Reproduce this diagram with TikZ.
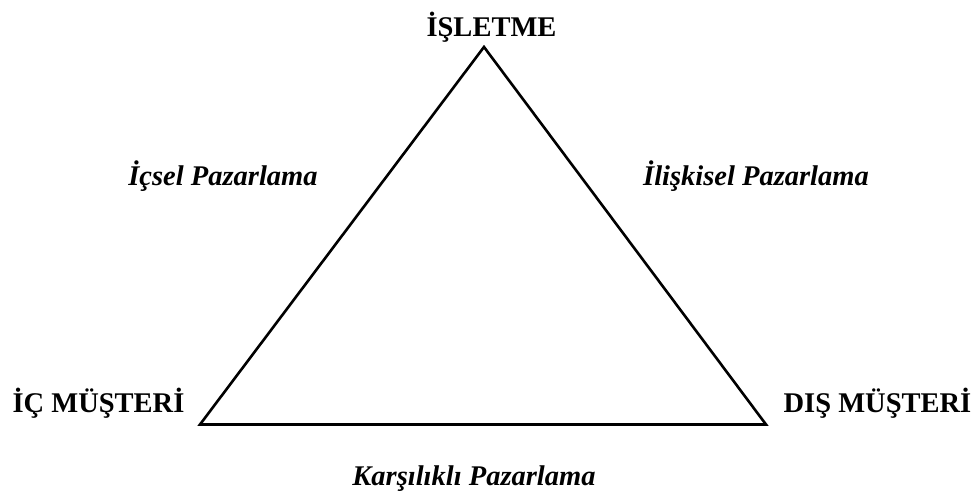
\documentclass[tikz,border=0pt]{standalone}
\usepackage{fontspec}
\setmainfont{Liberation Serif}
\begin{document}
\begin{tikzpicture}[x=1pt,y=1pt,
  lbl/.style={inner sep=0pt, anchor=base, font=\fontsize{28.5}{34}\selectfont\bfseries},
  ilbl/.style={inner sep=0pt, anchor=base, font=\fontsize{28.5}{34}\selectfont\bfseries\itshape}]
\useasboundingbox (0,0) rectangle (978,497);
\coordinate (top) at (484,450);
\coordinate (bl) at (200,72.5);
\coordinate (br) at (766,72.5);
\draw[line width=2.6pt] (top) -- (bl) -- (br) -- cycle;
\node[lbl] (isletme) at (491.5,460) {İŞLETME};
\node[lbl] (ic) at (98.5,84) {İÇ MÜŞTERİ};
\node[lbl] (dis) at (877.5,84) {DIŞ MÜŞTERİ};
\node[ilbl] (icsel) at (223,311) {İçsel Pazarlama};
\node[ilbl] (iliskisel) at (756,311) {İlişkisel Pazarlama};
\node[ilbl] (karsilikli) at (474,11) {Karşılıklı Pazarlama};
\end{tikzpicture}
\end{document}
